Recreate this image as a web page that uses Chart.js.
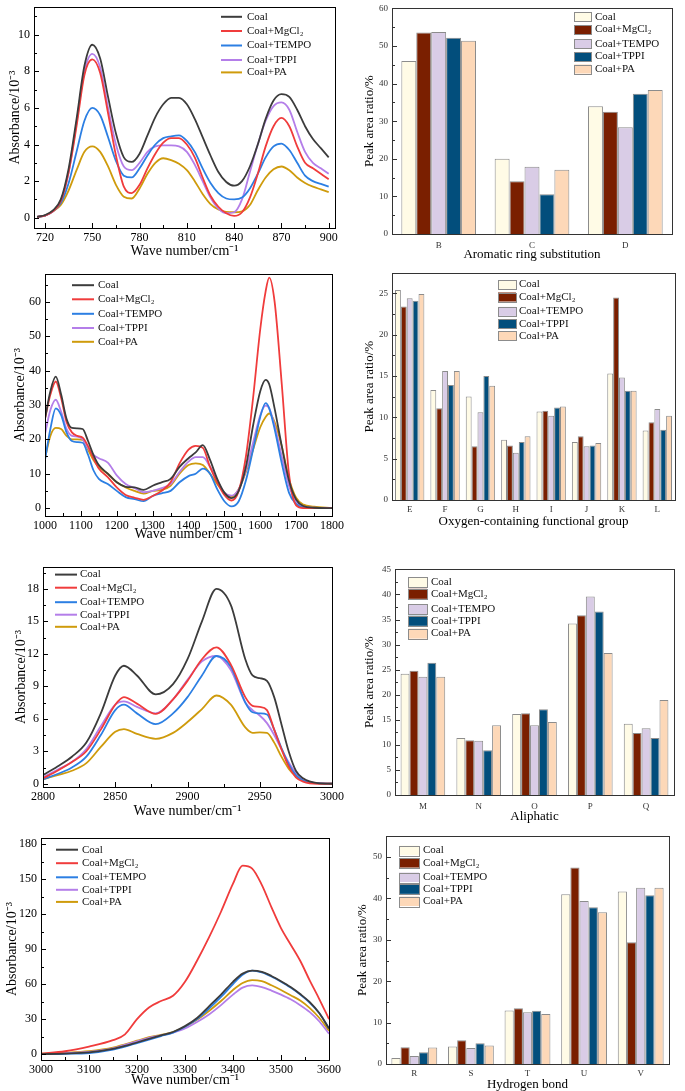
<!DOCTYPE html>
<html>
<head>
<meta charset="utf-8">
<script src="https://cdn.jsdelivr.net/npm/chart.js@4.4.1/dist/chart.umd.min.js"></script>
<style>
html, body { margin: 0; padding: 0; background: #fff; overflow: hidden; }
body { width: 685px; height: 1091px; position: relative; }
canvas { position: absolute; }
</style>
</head>
<body>
<canvas id="c1"></canvas>
<canvas id="c2"></canvas>
<canvas id="c3"></canvas>
<canvas id="c4"></canvas>
<canvas id="c5"></canvas>
<canvas id="c6"></canvas>
<canvas id="c7"></canvas>
<canvas id="c8"></canvas>
<script>
// samples shared by all panels
const samples = ['Coal', 'Coal+MgCl₂', 'Coal+TEMPO', 'Coal+TPPI', 'Coal+PA'];
const lineColors = ['#3c3c3c', '#f03c3c', '#2c7fe3', '#b47ee9', '#cf9b0c'];
const barColors = ['#fffbe6', '#7a1f00', '#d9cce6', '#024e7c', '#fdd8b8'];

// ---- 700-900 cm-1 (aromatic) ----
const wave1 = [715, 720, 725, 730, 735, 740, 745, 750, 755, 760, 765, 770, 775, 780, 785, 790, 795, 800, 805, 810,
  815, 820, 825, 830, 835, 840, 845, 850, 855, 860, 865, 870, 875, 880, 885, 890, 895, 900];
const coal1 = [0.05, 0.15, 0.4, 1.0, 2.7, 5.4, 8.3, 9.45, 8.7, 6.6, 4.6, 3.3, 3.05, 3.5, 4.5, 5.5, 6.2, 6.55, 6.55, 6.2,
  5.4, 4.4, 3.4, 2.5, 1.95, 1.75, 2.0, 2.8, 4.0, 5.4, 6.4, 6.75, 6.6, 5.9, 5.0, 4.3, 3.8, 3.3];
const mg1 = [0.05, 0.12, 0.35, 0.9, 2.5, 5.0, 7.8, 8.65, 7.9, 5.7, 3.4, 1.7, 1.35, 1.8, 2.7, 3.5, 4.1, 4.35, 4.35, 4.0,
  3.3, 2.2, 1.2, 0.6, 0.25, 0.1, 0.3, 1.1, 2.4, 3.9, 5.0, 5.45, 5.0, 3.9, 3.0, 2.7, 2.4, 2.1];
const tempo1 = [0.05, 0.12, 0.35, 0.8, 1.9, 3.6, 5.3, 6.0, 5.6, 4.4, 3.1, 2.3, 2.2, 2.7, 3.4, 4.0, 4.35, 4.45, 4.5, 4.2,
  3.6, 2.7, 1.9, 1.35, 1.05, 1.0, 1.1, 1.6, 2.4, 3.3, 3.9, 4.05, 3.7, 3.0, 2.3, 2.0, 1.85, 1.7];
const tppi1 = [0.05, 0.12, 0.35, 0.9, 2.5, 5.2, 8.0, 8.95, 8.2, 6.0, 4.0, 2.8, 2.6, 3.0, 3.6, 3.9, 3.95, 3.95, 3.9, 3.6,
  2.9, 2.0, 1.1, 0.5, 0.25, 0.3, 1.0, 2.5, 4.0, 5.3, 6.1, 6.3, 5.9, 4.7, 3.6, 3.0, 2.7, 2.4];
const pa1 = [0.05, 0.12, 0.35, 0.7, 1.5, 2.6, 3.6, 3.9, 3.6, 2.8, 1.8, 1.15, 1.05, 1.6, 2.4, 3.0, 3.25, 3.15, 2.95, 2.6,
  2.0, 1.3, 0.75, 0.45, 0.32, 0.3, 0.35, 0.7, 1.5, 2.2, 2.65, 2.8, 2.6, 2.2, 1.9, 1.7, 1.55, 1.4];
const xTicks1 = [720, 750, 780, 810, 840, 870, 900];
const yTicks1 = [0, 2, 4, 6, 8, 10];

// ---- 1000-1800 cm-1 (oxygen groups) ----
const wave3 = [1000, 1015, 1030, 1045, 1060, 1075, 1090, 1105, 1120, 1135, 1150, 1175, 1200, 1225, 1250, 1275, 1300, 1325,
  1350, 1375, 1400, 1420, 1440, 1460, 1480, 1500, 1520, 1540, 1560, 1580, 1600, 1615, 1625, 1640, 1660, 1680, 1700, 1720, 1750, 1800];
const coal3 = [26, 34, 38.2, 33, 26, 23.3, 23.2, 23, 19.5, 15.5, 12.5, 10, 7.5, 6.2, 6.0, 5.3, 6.5, 7.5,
  8.5, 12, 14.5, 16.2, 18.3, 14, 8.5, 4.5, 2.9, 5, 12, 24, 34, 37.3, 36, 29, 18, 8, 2.5, 0.6, 0.1, 0];
const mg3 = [26, 33, 36.8, 32, 25, 22, 21, 20.5, 18, 14.5, 11.5, 9, 6, 3.8, 3, 2.4, 3.5, 5,
  7.5, 13, 17, 18.1, 17.5, 12, 7.5, 3.8, 2.2, 5, 15, 32, 52, 63, 67, 60, 36, 10, 0.8, 0, 0, 0];
const tempo3 = [14, 23, 29, 27, 22, 19.5, 19.2, 19, 15.5, 11, 8.5, 7, 5, 3.2, 2.6, 2.0, 3.5, 4.3,
  5, 7.5, 9.3, 10, 11.5, 10, 5.5, 2, 0.5, 2, 8, 17, 26.5, 30.5, 29, 23, 13, 4.5, 1.2, 0.2, 0, 0];
const tppi3 = [21.5, 28.5, 31.5, 28, 23, 21, 20.8, 20, 17.5, 15.5, 14.5, 13.2, 9.5, 7, 5.8, 4.6, 5, 5.8,
  7, 10.5, 13.5, 14.8, 14.8, 12, 8, 4.5, 3.6, 5.5, 11, 19, 27, 29.8, 29, 24, 15, 6.5, 2, 0.5, 0.1, 0];
const pa3 = [14.5, 21, 23.3, 23, 21, 20, 20, 19.8, 17, 14, 12, 10, 7.5, 6, 5, 4.2, 5, 5.3,
  6.5, 10, 12.5, 13, 12.5, 10, 7, 4.5, 3.3, 5.5, 10.5, 17, 23.5, 26.5, 27.5, 25, 18, 8.5, 3, 1, 0.4, 0];
const xTicks3 = [1000, 1100, 1200, 1300, 1400, 1500, 1600, 1700, 1800];
const yTicks3 = [0, 10, 20, 30, 40, 50, 60];

// ---- 2800-3000 cm-1 (aliphatic) ----
const wave5 = [2800, 2810, 2820, 2830, 2840, 2850, 2856, 2865, 2878, 2890, 2900, 2910, 2920, 2930, 2940, 2945,
  2950, 2955, 2960, 2965, 2970, 2975, 2980, 2990, 3000];
const coal5 = [0.8, 1.6, 2.5, 3.8, 6.5, 10.0, 10.9, 10.0, 8.25, 9.2, 11.5, 15.0, 18.0, 16.5, 11.5, 10.0,
  9.75, 9.5, 8.0, 5.5, 3.0, 1.2, 0.5, 0.05, 0];
const mg5 = [0.5, 1.2, 2.0, 3.0, 5.0, 7.3, 8.0, 7.4, 6.45, 7.8, 9.5, 11.5, 12.6, 11.0, 8.0, 7.2,
  7.1, 6.8, 5.0, 3.2, 1.6, 0.6, 0.2, 0, 0];
const tempo5 = [0.4, 0.9, 1.5, 2.5, 4.5, 6.8, 7.3, 6.5, 5.5, 6.5, 8.0, 10.0, 11.8, 10.8, 7.5, 6.6,
  6.5, 6.4, 5.0, 3.3, 1.8, 0.8, 0.3, 0.05, 0];
const tppi5 = [0.6, 1.3, 2.0, 3.2, 5.3, 7.3, 7.6, 7.1, 6.5, 7.8, 9.6, 11.3, 11.8, 10.5, 7.5, 6.8,
  6.3, 5.6, 4.5, 3.2, 2.0, 1.0, 0.4, 0.05, 0];
const pa5 = [0.4, 0.8, 1.2, 1.9, 3.4, 4.8, 5.05, 4.6, 4.15, 4.7, 5.7, 6.9, 8.15, 7.3, 5.2, 4.7,
  4.75, 4.7, 3.8, 2.5, 1.4, 0.7, 0.3, 0.05, 0];
const xTicks5 = [2800, 2850, 2900, 2950, 3000];
const yTicks5 = [0, 3, 6, 9, 12, 15, 18];

// ---- 3000-3600 cm-1 (hydrogen bond) ----
const wave7 = [3000, 3050, 3100, 3150, 3175, 3200, 3225, 3250, 3275, 3300, 3325, 3350, 3375, 3400, 3420, 3440,
  3460, 3480, 3500, 3520, 3540, 3560, 3580, 3600];
const coal7 = [0, 0.5, 1.5, 4.5, 7, 10, 13, 16, 19, 24, 31, 41, 51, 62, 69, 71.5, 70.5, 67, 62.5, 57.5, 51.5, 44.5, 35, 22];
const mg7 = [0.5, 2.5, 6.5, 12, 17, 30, 40, 45.5, 50, 62, 80, 100, 122, 146, 161.5, 159, 145, 126, 108, 94, 80, 63, 47, 30];
const tempo7 = [0, 0.3, 1, 4, 6.5, 9.5, 12.5, 15.5, 18.5, 23.5, 30, 39, 49, 60, 68, 71.5, 70, 66.5, 62, 57, 51, 44, 35, 22];
const tppi7 = [0, 0.8, 2, 5, 8, 11, 14, 16, 18.5, 22, 27.5, 34, 42, 51, 57, 59, 57.5, 54.5, 51, 47, 42, 36, 28, 17.5];
const pa7 = [0.5, 1.2, 2.5, 5.5, 8.5, 11.5, 14.5, 16.5, 19, 23.5, 29.5, 37, 45.5, 55, 61, 63.5, 62.5, 59, 55, 50.5, 46, 39.5, 31, 20];
const xTicks7 = [3000, 3100, 3200, 3300, 3400, 3500, 3600];
const yTicks7 = [0, 30, 60, 90, 120, 150, 180];

// ---- peak area ratios (%) ----
const aromaticCats = ['B', 'C', 'D'];
const aromCoal = [46.0, 20.0, 34.0];
const aromMg = [53.6, 14.0, 32.5];
const aromTempo = [53.7, 17.9, 28.4];
const aromTppi = [52.2, 10.6, 37.3];
const aromPa = [51.4, 17.1, 38.3];
const aromTicks = [0, 10, 20, 30, 40, 50, 60];

const oxyCats = ['E', 'F', 'G', 'H', 'I', 'J', 'K', 'L'];
const oxyCoal = [25.4, 13.3, 12.5, 7.3, 10.7, 7.0, 15.3, 8.4];
const oxyMg = [23.4, 11.1, 6.5, 6.6, 10.8, 7.7, 24.5, 9.4];
const oxyTempo = [24.4, 15.6, 10.6, 5.7, 10.2, 6.5, 14.8, 11.0];
const oxyTppi = [24.1, 13.9, 15.0, 7.0, 11.2, 6.6, 13.2, 8.5];
const oxyPa = [24.9, 15.6, 13.8, 7.7, 11.3, 6.9, 13.2, 10.2];
const oxyTicks = [0, 5, 10, 15, 20, 25];

const aliCats = ['M', 'N', 'O', 'P', 'Q'];
const aliCoal = [24.2, 11.35, 16.15, 34.2, 14.2];
const aliMg = [24.8, 10.9, 16.3, 35.85, 12.35];
const aliTempo = [23.6, 10.8, 13.9, 39.6, 13.3];
const aliTppi = [26.4, 8.95, 17.1, 36.6, 11.35];
const aliPa = [23.6, 13.9, 14.55, 28.3, 18.96];
const aliTicks = [0, 5, 10, 15, 20, 25, 30, 35, 40, 45];

const hbCats = ['R', 'S', 'T', 'U', 'V'];
const hbCoal = [1.46, 4.2, 12.9, 41.0, 41.7];
const hbMg = [4.05, 5.74, 13.5, 47.5, 29.45];
const hbTempo = [1.94, 3.88, 12.5, 39.4, 42.6];
const hbTppi = [2.83, 5.0, 12.86, 37.9, 40.8];
const hbPa = [3.96, 4.45, 12.1, 36.65, 42.6];
const hbTicks = [0, 10, 20, 30, 40, 50];

const serif = "'Liberation Serif', 'Times New Roman', serif";

// frame, inward ticks and in-plot legend
const framePlugin = {
  id: 'frame',
  afterDatasetsDraw(chart, args, o) {
    const ctx = chart.ctx, a = chart.chartArea;
    const px = v => Math.round(v) + 0.5;
    ctx.save();
    ctx.strokeStyle = o.color;
    ctx.lineWidth = 1;
    ctx.beginPath();
    const marks = (scale, horiz) => {
      const vals = scale.ticks.map(t => t.value);
      const step = vals[1] - vals[0];
      const put = (v, len) => {
        const p = px(scale.getPixelForValue(v));
        if (horiz) { ctx.moveTo(p, a.bottom); ctx.lineTo(p, a.bottom - len); }
        else { ctx.moveTo(a.left, p); ctx.lineTo(a.left + len, p); }
      };
      vals.forEach(v => put(v, 5));
      for (let v = vals[0] - step / 2; v <= scale.max; v += step) {
        if (v >= scale.min) put(v, 3);
      }
    };
    marks(chart.scales.y, false);
    if (o.xMarks) marks(chart.scales.x, true);
    ctx.stroke();
    ctx.strokeRect(px(a.left), px(a.top), Math.round(a.right) - Math.round(a.left), Math.round(a.bottom) - Math.round(a.top));

    const lg = o.legend;
    ctx.font = lg.size + 'px ' + serif;
    ctx.textBaseline = 'middle';
    chart.data.datasets.forEach((ds, i) => {
      const cy = lg.rows[i] - o.oy;
      const x0 = lg.x0 - o.ox, x1 = lg.x1 - o.ox;
      if (o.kind === 'line') {
        ctx.strokeStyle = ds.borderColor;
        ctx.lineWidth = 2;
        ctx.beginPath();
        ctx.moveTo(x0, cy);
        ctx.lineTo(x1, cy);
        ctx.stroke();
      } else {
        ctx.fillStyle = ds.backgroundColor;
        ctx.fillRect(x0, cy - lg.h / 2, x1 - x0, lg.h);
        ctx.strokeStyle = '#8c8c8c';
        ctx.lineWidth = 1;
        ctx.strokeRect(Math.round(x0) + 0.5, Math.round(cy - lg.h / 2) + 0.5, Math.round(x1 - x0), Math.round(lg.h));
      }
      ctx.fillStyle = '#111';
      ctx.fillText(ds.label, lg.tx - o.ox, cy);
    });
    ctx.restore();
  }
};

function place(cv, left, top, right, bottom) {
  const w = Math.round(right - left), h = Math.round(bottom - top);
  cv.width = w;
  cv.height = h;
  cv.style.left = left + 'px';
  cv.style.top = top + 'px';
  cv.style.width = w + 'px';
  cv.style.height = h + 'px';
}

function lineChart(id, p, wave, series, xTicks, yTicks) {
  const cv = document.getElementById(id);
  const top = Math.round(p.T) - 8, right = Math.round(p.R) + 16, bottom = Math.round(p.bottom);
  place(cv, p.left, top, right, bottom);
  return new Chart(cv, {
    type: 'line',
    data: {
      datasets: series.map((ys, i) => ({
        label: samples[i],
        data: wave.map((x, j) => ({ x: x, y: ys[j] })),
        borderColor: lineColors[i],
        borderWidth: 1.8,
        pointRadius: 0,
        cubicInterpolationMode: 'monotone',
        fill: false
      }))
    },
    options: {
      responsive: false,
      animation: false,
      devicePixelRatio: 1,
      layout: { padding: { top: 8, right: 16, left: 0, bottom: 0 } },
      plugins: {
        legend: { display: false },
        tooltip: { enabled: false },
        frame: { color: '#000', ox: p.left, oy: top, xMarks: true, kind: 'line', legend: p.legend }
      },
      scales: {
        x: {
          type: 'linear', min: p.xMin, max: p.xMax,
          afterBuildTicks: s => { s.ticks = xTicks.map(v => ({ value: v })); },
          afterFit: s => { s.height = bottom - Math.round(p.B); },
          grid: { display: false, drawTicks: false },
          border: { display: false },
          ticks: { font: { family: serif, size: 12 }, color: '#000', padding: 3, maxRotation: 0, autoSkip: false, callback: v => String(v) },
          title: { display: true, text: 'Wave number/cm⁻¹', font: { family: serif, size: 14 }, color: '#000', padding: { top: 0, bottom: 2 } }
        },
        y: {
          min: p.yMin, max: p.yMax,
          afterBuildTicks: s => { s.ticks = yTicks.map(v => ({ value: v })); },
          afterFit: s => { s.width = Math.round(p.L) - p.left; },
          grid: { display: false, drawTicks: false },
          border: { display: false },
          ticks: { font: { family: serif, size: 12 }, color: '#000', padding: 4, callback: v => String(v) },
          title: { display: true, text: 'Absorbance/10⁻³', font: { family: serif, size: 14 }, color: '#000', padding: { top: p.titlePad, bottom: 0 } }
        }
      }
    },
    plugins: [framePlugin]
  });
}

function barChart(id, p, cats, series, yTicks, xTitle) {
  const cv = document.getElementById(id);
  const top = Math.round(p.T) - 8, right = Math.round(p.R) + 16, bottom = Math.round(p.bottom);
  place(cv, p.left, top, right, bottom);
  return new Chart(cv, {
    type: 'bar',
    data: {
      labels: cats,
      datasets: series.map((vals, i) => ({
        label: samples[i],
        data: vals,
        backgroundColor: barColors[i],
        borderColor: '#8c8c8c',
        borderWidth: 1,
        categoryPercentage: p.catPct,
        barPercentage: 1.0
      }))
    },
    options: {
      responsive: false,
      animation: false,
      devicePixelRatio: 1,
      layout: { padding: { top: 8, right: 16, left: 0, bottom: 0 } },
      plugins: {
        legend: { display: false },
        tooltip: { enabled: false },
        frame: { color: '#333', ox: p.left, oy: top, xMarks: false, kind: 'box', legend: p.legend }
      },
      scales: {
        x: {
          afterFit: s => { s.height = bottom - Math.round(p.B); },
          grid: { display: false, drawTicks: false },
          border: { display: false },
          ticks: { font: { family: serif, size: 9 }, color: '#333', padding: p.catPad, maxRotation: 0, autoSkip: false },
          title: { display: true, text: xTitle, font: { family: serif, size: 13 }, color: '#000', padding: { top: 0, bottom: 2 } }
        },
        y: {
          min: 0, max: p.yMax,
          afterBuildTicks: s => { s.ticks = yTicks.map(v => ({ value: v })); },
          afterFit: s => { s.width = Math.round(p.L) - p.left; },
          grid: { display: false, drawTicks: false },
          border: { display: false },
          ticks: { font: { family: serif, size: 9 }, color: '#333', padding: 4, callback: v => String(v) },
          title: { display: true, text: 'Peak area ratio/%', font: { family: serif, size: 13 }, color: '#000', padding: { top: p.titlePad, bottom: 0 } }
        }
      }
    },
    plugins: [framePlugin]
  });
}

lineChart('c1', {
  left: 0, L: 34, T: 4, R: 335, B: 228, bottom: 262, xMin: 713, xMax: 904, yMin: -0.56, yMax: 11.5, titlePad: 6.6,
  legend: { x0: 221, x1: 242, tx: 247, size: 11, rows: [16.8, 31, 45.5, 60, 72.4] }
}, wave1, [coal1, mg1, tempo1, tppi1, pa1], xTicks1, yTicks1);

barChart('c2', {
  left: 345, L: 392, T: 7.4, R: 672, B: 233.5, bottom: 264, yMax: 60, titlePad: 16.8, catPad: 6, catPct: 0.8,
  legend: { x0: 574, x1: 591, tx: 595, h: 9, size: 11, rows: [16.8, 29.6, 43.8, 56.6, 69] }
}, aromaticCats, [aromCoal, aromMg, aromTempo, aromTppi, aromPa], aromTicks, 'Aromatic ring substitution');

lineChart('c3', {
  left: 0, L: 45, T: 270.5, R: 332, B: 516, bottom: 545, xMin: 1000, xMax: 1800, yMin: -2.3, yMax: 68, titlePad: 11.6,
  legend: { x0: 72, x1: 94, tx: 98, size: 11, rows: [285.2, 299.3, 313.8, 328, 341.8] }
}, wave3, [coal3, mg3, tempo3, tppi3, pa3], xTicks3, yTicks3);

barChart('c4', {
  left: 345, L: 392, T: 271.7, R: 674.6, B: 500, bottom: 531, yMax: 27.4, titlePad: 16.8, catPad: 4.5, catPct: 0.83,
  legend: { x0: 498, x1: 516, tx: 519, h: 9, size: 11, rows: [284.5, 297, 311.4, 323.9, 335.7] }
}, oxyCats, [oxyCoal, oxyMg, oxyTempo, oxyTppi, oxyPa], oxyTicks, 'Oxygen-containing functional group');

lineChart('c5', {
  left: 0, L: 43, T: 563.5, R: 332, B: 787, bottom: 822, xMin: 2800, xMax: 3000, yMin: -0.3, yMax: 20, titlePad: 12.6,
  legend: { x0: 55, x1: 77, tx: 80, size: 11, rows: [574.6, 587.7, 602.2, 614.7, 626.8] }
}, wave5, [coal5, mg5, tempo5, tppi5, pa5], xTicks5, yTicks5);

barChart('c6', {
  left: 345, L: 395, T: 567.5, R: 673.6, B: 794.6, bottom: 826, yMax: 45, titlePad: 16.8, catPad: 6, catPct: 0.8,
  legend: { x0: 408, x1: 427, tx: 431, h: 10, size: 11, rows: [582, 593.8, 609, 620.8, 633.6] }
}, aliCats, [aliCoal, aliMg, aliTempo, aliTppi, aliPa], aliTicks, 'Aliphatic');

lineChart('c7', {
  left: 0, L: 41, T: 835, R: 328.5, B: 1060, bottom: 1091, xMin: 3000, xMax: 3600, yMin: -5, yMax: 185, titlePad: 3.6,
  legend: { x0: 56, x1: 78, tx: 82, size: 11, rows: [849.7, 863.2, 877.3, 889.8, 901.9] }
}, wave7, [coal7, mg7, tempo7, tppi7, pa7], xTicks7, yTicks7);

barChart('c8', {
  left: 345, L: 385.5, T: 834.5, R: 668.5, B: 1063.6, bottom: 1094, yMax: 55, titlePad: 10.2, catPad: 4.6, catPct: 0.81,
  legend: { x0: 399, x1: 419, tx: 423, h: 9.5, size: 11, rows: [850.4, 862.8, 877.3, 889.1, 901.3] }
}, hbCats, [hbCoal, hbMg, hbTempo, hbTppi, hbPa], hbTicks, 'Hydrogen bond');
</script>
</body>
</html>
